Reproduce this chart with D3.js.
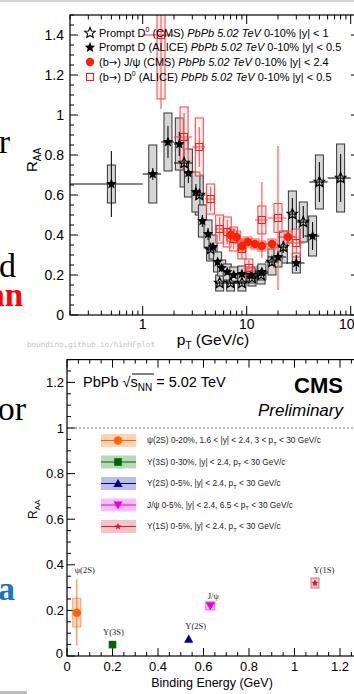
<!DOCTYPE html>
<html>
<head>
<meta charset="utf-8">
<script src="https://cdn.jsdelivr.net/npm/d3@7"></script>
<style>
  body { margin: 0; background: #fff; }
  svg { display: block; }
</style>
</head>
<body>
<svg id="chart" width="354" height="694"></svg>
<script>
// ---------------- Top panel: heavy-flavour RAA vs pT, PbPb 5.02 TeV ----------------
// Prompt D0 (CMS), 0-10%, |y| < 1
const dzCmsPt   = [2.5, 3.5, 4.5, 5.5, 7, 9, 11.25, 13.75, 17.5, 22.5, 27.5, 35, 50, 80];
const dzCmsLo   = [2, 3, 4, 5, 6, 8, 10, 12.5, 15, 20, 25, 30, 40, 60];
const dzCmsHi   = [3, 4, 5, 6, 8, 10, 12.5, 15, 20, 25, 30, 40, 60, 100];
const dzCmsRaa  = [0.76, 0.6, 0.33, 0.16, 0.16, 0.16, 0.185, 0.2, 0.265, 0.34, 0.505, 0.465, 0.665, 0.685];
const dzCmsStat = [0.02, 0.015, 0.01, 0.01, 0.01, 0.01, 0.012, 0.015, 0.02, 0.03, 0.08, 0.08, 0.1, 0.12];
const dzCmsSys  = [0.12, 0.1, 0.06, 0.04, 0.04, 0.04, 0.04, 0.045, 0.065, 0.08, 0.115, 0.1, 0.135, 0.17];

// Prompt D (ALICE), 0-10%, |y| < 0.5
const dAliPt   = [0.5, 1.25, 1.75, 2.25, 2.75, 3.25, 3.75, 4.25, 4.75, 5.25, 5.75, 6.5, 7.5, 9, 11, 14, 20, 30, 43];
const dAliLo   = [0, 1, 1.5, 2, 2.5, 3, 3.5, 4, 4.5, 5, 5.5, 6, 7, 8, 10, 12, 16, 24, 36];
const dAliHi   = [1, 1.5, 2, 2.5, 3, 3.5, 4, 4.5, 5, 5.5, 6, 7, 8, 10, 12, 16, 24, 36, 50];
const dAliRaa  = [0.655, 0.705, 0.865, 0.855, 0.71, 0.615, 0.47, 0.405, 0.34, 0.265, 0.235, 0.215, 0.2, 0.205, 0.2, 0.215, 0.29, 0.26, 0.395];
const dAliStat = [0.165, 0.03, 0.08, 0.06, 0.05, 0.04, 0.03, 0.03, 0.02, 0.02, 0.02, 0.015, 0.015, 0.015, 0.015, 0.02, 0.03, 0.04, 0.07];
const dAliSys  = [0.095, 0.145, 0.145, 0.13, 0.12, 0.1, 0.08, 0.07, 0.06, 0.05, 0.04, 0.04, 0.04, 0.04, 0.04, 0.04, 0.05, 0.05, 0.1];

// (b->) J/psi (CMS), 0-10%, |y| < 2.4
const bJpsiPt   = [7, 8, 9, 10.25, 12, 14, 17.5, 25];
const bJpsiLo   = [6.5, 7.5, 8.5, 9.5, 11, 13, 15, 20];
const bJpsiHi   = [7.5, 8.5, 9.5, 11, 13, 15, 20, 30];
const bJpsiRaa  = [0.40, 0.39, 0.345, 0.365, 0.355, 0.345, 0.355, 0.39];
const bJpsiStat = [0.03, 0.03, 0.02, 0.02, 0.02, 0.02, 0.02, 0.03];
const bJpsiSys  = [0.03, 0.03, 0.025, 0.025, 0.025, 0.025, 0.025, 0.03];

// (b->) D0 (ALICE), 0-10%, |y| < 0.5
const bDzPt   = [1.5, 2.5, 3.5, 4.5, 5.5, 6.5, 7.5, 9, 10.5, 14, 20, 30];
const bDzLo   = [1, 2, 3, 4, 5, 6, 7, 8, 10, 12, 16, 24];
const bDzHi   = [2, 3, 4, 5, 6, 7, 8, 10, 12, 16, 24, 36];
const bDzRaa  = [1.40, 0.89, 0.84, 0.58, 0.43, 0.415, 0.38, 0.33, 0.235, 0.475, 0.485, 0.36];
const bDzStat = [0.37, 0.12, 0.10, 0.06, 0.06, 0.06, 0.05, 0.05, 0.04, 0.19, 0.36, 0.05];
const bDzSys  = [0.32, 0.15, 0.145, 0.075, 0.07, 0.075, 0.06, 0.05, 0.045, 0.07, 0.072, 0.07];

const topYTicks = [0, 0.2, 0.4, 0.6, 0.8, 1, 1.2, 1.4];
const topXTickLabels = [1, 10, 100];

// ---------------- Bottom panel: quarkonium RAA vs binding energy ----------------
const qNames   = ["ψ(2S)", "Υ(3S)", "Υ(2S)", "J/ψ", "Υ(1S)"];
const qBinding = [0.043, 0.2, 0.535, 0.63, 1.09];
const qRaa     = [0.19, 0.05, 0.074, 0.22, 0.32];
const qStat    = [0.145, 0.012, 0.01, 0.012, 0.012];
const qSys     = [0.063, 0.012, 0.01, 0.012, 0.022];
const qColors  = ["#ff6600", "#006600", "#000099", "#e600e6", "#e0103c"];
const qFills   = ["#ffd2b4", "#b6d9b6", "#bdbdec", "#f9bdf9", "#f6c3c8"];
const qLegend  = [
  ["ψ(2S) 0-20%, 1.6 < |y| < 2.4, 3 < p", "T", " < 30 GeV/c"],
  ["Υ(3S) 0-30%, |y| < 2.4, p", "T", " < 30 GeV/c"],
  ["Υ(2S) 0-5%, |y| < 2.4, p", "T", " < 30 GeV/c"],
  ["J/ψ     0-5%, |y| < 2.4, 6.5 < p", "T", " < 30 GeV/c"],
  ["Υ(1S) 0-5%, |y| < 2.4, p", "T", " < 30 GeV/c"]
];
const botTicks = [0, 0.2, 0.4, 0.6, 0.8, 1, 1.2];

const SANS = "'Liberation Sans', Arial, Helvetica, sans-serif";
const SERIF = "'Liberation Serif', 'DejaVu Serif', serif";

const svg = d3.select("#chart");
svg.append("rect").attr("width", 354).attr("height", 694).attr("fill", "#fff");

// page edges of the slide
svg.append("rect").attr("x", 0).attr("y", 0).attr("width", 354).attr("height", 2).attr("fill", "#d4d4d4");
svg.append("rect").attr("x", 0).attr("y", 691).attr("width", 27).attr("height", 3).attr("fill", "#bdbdbd");

// fragments of the slide text sitting left of the plots
const frag = svg.append("g").attr("font-family", SERIF).attr("text-anchor", "end");
frag.append("text").attr("x", 10).attr("y", 153).attr("font-size", 34).attr("fill", "#000").text("r");
frag.append("text").attr("x", 16).attr("y", 277).attr("font-size", 34).attr("fill", "#000").text("d");
frag.append("text").attr("x", 23).attr("y", 306).attr("font-size", 33).attr("font-weight", "bold").attr("fill", "#ff0000").text("an");
frag.append("text").attr("x", 26).attr("y", 420).attr("font-size", 34).attr("fill", "#000").text("or");
frag.append("text").attr("x", 15).attr("y", 600).attr("font-size", 34).attr("font-weight", "bold").attr("fill", "#1a73c8").text("a");

// ---------- helpers ----------
function starPath(r) {
  const pts = [];
  for (let i = 0; i < 10; i++) {
    const a = -Math.PI / 2 + i * Math.PI / 5;
    const rr = i % 2 ? r * 0.45 : r;
    pts.push([rr * Math.cos(a), rr * Math.sin(a)]);
  }
  return "M" + pts.map(p => p[0].toFixed(2) + "," + p[1].toFixed(2)).join("L") + "Z";
}
function zipSeries(pt, lo, hi, raa, stat, sys) {
  return pt.map((p, i) => ({ pt: p, lo: lo[i], hi: hi[i], raa: raa[i], stat: stat[i], sys: sys[i] }));
}

// =============== TOP PANEL ===============
const tL = 70, tT = 15, tB = 315;
const xT = d3.scaleLog().domain([0.2, 120]).range([tL, tL + 104 * Math.log10(600)]);
const yT = d3.scaleLinear().domain([0, 1.5]).range([tB, tT]);
const tR = xT.range()[1];

const topG = svg.append("g");
svg.append("defs").append("clipPath").attr("id", "clipTop")
  .append("rect").attr("x", tL).attr("y", tT).attr("width", tR - tL).attr("height", tB - tT);

const plotT = topG.append("g").attr("clip-path", "url(#clipTop)");
const xc = v => xT(Math.max(v, 0.2));

const sDzCms = zipSeries(dzCmsPt, dzCmsLo, dzCmsHi, dzCmsRaa, dzCmsStat, dzCmsSys);
const sDAli  = zipSeries(dAliPt, dAliLo, dAliHi, dAliRaa, dAliStat, dAliSys);
const sBJpsi = zipSeries(bJpsiPt, bJpsiLo, bJpsiHi, bJpsiRaa, bJpsiStat, bJpsiSys);
const sBDz   = zipSeries(bDzPt, bDzLo, bDzHi, bDzRaa, bDzStat, bDzSys);

function boxes(data, fill, stroke, w, op) {
  plotT.append("g").selectAll("rect").data(data).join("rect")
    .attr("x", d => xT(d.pt) - w / 2).attr("width", w)
    .attr("y", d => yT(d.raa + d.sys)).attr("height", d => yT(d.raa - d.sys) - yT(d.raa + d.sys))
    .attr("fill", fill).attr("fill-opacity", op).attr("stroke", stroke).attr("stroke-width", 1);
}
function bars(data, color, width, withBins) {
  const g = plotT.append("g").attr("stroke", color).attr("stroke-width", width);
  g.selectAll("line.v").data(data).join("line").attr("class", "v")
    .attr("x1", d => xT(d.pt)).attr("x2", d => xT(d.pt))
    .attr("y1", d => yT(d.raa + d.stat)).attr("y2", d => yT(d.raa - d.stat));
  if (withBins) {
    g.selectAll("line.h").data(data).join("line").attr("class", "h")
      .attr("x1", d => xc(d.lo)).attr("x2", d => xc(d.hi))
      .attr("y1", d => yT(d.raa)).attr("y2", d => yT(d.raa));
  }
}

// systematic boxes
boxes(sDzCms, "#d6d6d6", "#333", 8, 1);
boxes(sDAli, "#d6d6d6", "#333", 8, 1);
boxes(sBDz, "#ffd8d8", "#ff3b3b", 8, 0.35);
boxes(sBJpsi, "#ff9c9c", "#ff5a5a", 8, 0.35);

// statistical bars and bin widths
bars(sDzCms, "#111", 1.1, true);
bars(sDAli, "#111", 1.1, true);
bars(sBDz, "#ff4d4d", 1.1, true);
bars(sBJpsi, "#ff3a3a", 1.1, true);

// markers
plotT.append("g").selectAll("path").data(sDzCms).join("path")
  .attr("d", starPath(5.5)).attr("transform", d => `translate(${xT(d.pt)},${yT(d.raa)})`)
  .attr("fill", "none").attr("stroke", "#000").attr("stroke-width", 1.2);
plotT.append("g").selectAll("path").data(sDAli).join("path")
  .attr("d", starPath(5.5)).attr("transform", d => `translate(${xT(d.pt)},${yT(d.raa)})`)
  .attr("fill", "#000");
plotT.append("g").selectAll("rect").data(sBDz).join("rect")
  .attr("x", d => xT(d.pt) - 3.5).attr("y", d => yT(d.raa) - 3.5).attr("width", 7).attr("height", 7)
  .attr("fill", "none").attr("stroke", "#ff1a1a").attr("stroke-width", 1.1);
plotT.append("g").selectAll("circle").data(sBJpsi).join("circle")
  .attr("cx", d => xT(d.pt)).attr("cy", d => yT(d.raa)).attr("r", 4.2)
  .attr("fill", "#ff2200");

// frame
topG.append("rect").attr("x", tL).attr("y", tT).attr("width", tR - tL).attr("height", tB - tT)
  .attr("fill", "none").attr("stroke", "#000").attr("stroke-width", 1.2);

// ticks
const topTicksG = topG.append("g").attr("stroke", "#000").attr("stroke-width", 1);
const xLogTicks = xT.ticks();
xLogTicks.forEach(v => {
  const major = Math.abs(Math.log10(v) - Math.round(Math.log10(v))) < 1e-9;
  const len = major ? 9 : 4.5;
  const x = xT(v);
  topTicksG.append("line").attr("x1", x).attr("x2", x).attr("y1", tB).attr("y2", tB - len);
  topTicksG.append("line").attr("x1", x).attr("x2", x).attr("y1", tT).attr("y2", tT + len);
});
d3.range(0, 1.5001, 0.05).forEach(v => {
  const major = Math.abs(v / 0.2 - Math.round(v / 0.2)) < 1e-6;
  const len = major ? 8 : 4;
  const y = yT(v);
  topTicksG.append("line").attr("x1", tL).attr("x2", tL + len).attr("y1", y).attr("y2", y);
  topTicksG.append("line").attr("x1", tR).attr("x2", tR - len).attr("y1", y).attr("y2", y);
});

// tick labels
topG.append("g").attr("font-family", SANS).attr("font-size", 14).attr("text-anchor", "end")
  .selectAll("text").data(topYTicks).join("text")
  .attr("x", 64).attr("y", d => yT(d)).attr("dy", "0.36em").text(d => d3.format("~g")(d));
topG.append("g").attr("font-family", SANS).attr("font-size", 14).attr("text-anchor", "middle")
  .selectAll("text").data(topXTickLabels).join("text")
  .attr("x", d => xT(d)).attr("y", 329).text(d => d);

// axis titles
const ptTitle = topG.append("text").attr("font-family", SANS).attr("font-size", 15.5)
  .attr("x", 213).attr("y", 345).attr("text-anchor", "middle");
ptTitle.append("tspan").text("p");
ptTitle.append("tspan").attr("font-size", 10).attr("dy", 4).text("T");
ptTitle.append("tspan").attr("dy", -4).text(" (GeV/c)");

const raaT = topG.append("text").attr("font-family", SANS).attr("font-size", 15)
  .attr("transform", "translate(37,172) rotate(-90)");
raaT.append("tspan").text("R");
raaT.append("tspan").attr("font-size", 10).attr("dy", 4).text("AA");

// legend
const legRows = [
  { pre: "Prompt D", sup: "0", post: " (CMS) ", tail: " 0-10% |y| < 1", mark: "ostar" },
  { pre: "Prompt D (ALICE) ", tail: " 0-10% |y| < 0.5", mark: "fstar" },
  { pre: "(b", arrow: true, post: ") J/ψ (CMS) ", tail: " 0-10% |y| < 2.4", mark: "circle" },
  { pre: "(b", arrow: true, post: ") D", sup: "0", post2: " (ALICE) ", tail: " 0-10% |y| < 0.5", mark: "square" }
];
const legY = [33, 47.5, 62, 77];
const leg = topG.append("g").attr("font-family", SANS).attr("font-size", 11);
legRows.forEach((r, i) => {
  const y = legY[i];
  if (r.mark === "ostar") leg.append("path").attr("d", starPath(5.5)).attr("transform", `translate(90,${y})`)
    .attr("fill", "#fff").attr("stroke", "#000").attr("stroke-width", 1.1);
  if (r.mark === "fstar") leg.append("path").attr("d", starPath(5.5)).attr("transform", `translate(90,${y})`).attr("fill", "#000");
  if (r.mark === "circle") leg.append("circle").attr("cx", 90).attr("cy", y).attr("r", 4.2).attr("fill", "#ff2200");
  if (r.mark === "square") leg.append("rect").attr("x", 86.5).attr("y", y - 3.5).attr("width", 7).attr("height", 7)
    .attr("fill", "#fff").attr("stroke", "#ff1a1a").attr("stroke-width", 1.1);
  const t = leg.append("text").attr("x", 99).attr("y", y).attr("dy", "0.36em");
  t.append("tspan").text(r.pre);
  if (r.arrow) t.append("tspan").attr("font-family", "'DejaVu Sans', sans-serif").attr("font-size", 10).text("\u2192");
  if (r.arrow) {
    if (r.sup) {
      t.append("tspan").text(r.post);
      t.append("tspan").attr("font-size", 7).attr("dy", -5).text(r.sup);
      t.append("tspan").attr("dy", 5).text(r.post2);
    } else {
      t.append("tspan").text(r.post);
    }
  } else if (r.sup) {
    t.append("tspan").attr("font-size", 7).attr("dy", -5).text(r.sup);
    t.append("tspan").attr("dy", 5).text(r.post);
  }
  t.append("tspan").attr("font-style", "italic").text("PbPb 5.02 TeV");
  t.append("tspan").text(r.tail);
});

// watermark
svg.append("text").attr("x", 27).attr("y", 347).attr("font-family", "'DejaVu Sans Mono', 'Liberation Mono', monospace")
  .attr("font-size", 7.6).attr("fill", "#c4c4c4").text("boundino.github.io/hinHFplot");

// =============== BOTTOM PANEL ===============
const bL = 67, bB = 656;
const xB = d3.scaleLinear().domain([0, 1.3]).range([bL, bL + 1.3 * 227.5]);
const yB = d3.scaleLinear().domain([0, 1.3]).range([bB, bB - 1.3 * 228]);
const bR = xB.range()[1], bT = yB.range()[1];
const botG = svg.append("g");

// dotted unity line
botG.append("line").attr("x1", bL).attr("x2", bR).attr("y1", yB(1)).attr("y2", yB(1))
  .attr("stroke", "#777").attr("stroke-width", 1).attr("stroke-dasharray", "2,2");

// frame
botG.append("rect").attr("x", bL).attr("y", bT).attr("width", bR - bL).attr("height", bB - bT)
  .attr("fill", "none").attr("stroke", "#000").attr("stroke-width", 1.2);

const botTicksG = botG.append("g").attr("stroke", "#000").attr("stroke-width", 1);
d3.range(0, 1.3001, 0.05).forEach(v => {
  const major = Math.abs(v / 0.2 - Math.round(v / 0.2)) < 1e-6;
  const len = major ? 8 : 4;
  const x = xB(v), y = yB(v);
  botTicksG.append("line").attr("x1", x).attr("x2", x).attr("y1", bB).attr("y2", bB - len);
  botTicksG.append("line").attr("x1", x).attr("x2", x).attr("y1", bT).attr("y2", bT + len);
  botTicksG.append("line").attr("x1", bL).attr("x2", bL + len).attr("y1", y).attr("y2", y);
  botTicksG.append("line").attr("x1", bR).attr("x2", bR - len).attr("y1", y).attr("y2", y);
});

botG.append("g").attr("font-family", SANS).attr("font-size", 13).attr("text-anchor", "end")
  .selectAll("text").data(botTicks).join("text")
  .attr("x", d => d === 0 ? 63 : 64).attr("y", d => yB(d) - (d === 0 ? 3 : 0)).attr("dy", "0.36em")
  .text(d => d3.format("~g")(d));
botG.append("g").attr("font-family", SANS).attr("font-size", 13).attr("text-anchor", "middle")
  .selectAll("text").data(botTicks).join("text")
  .attr("x", d => xB(d)).attr("y", 671).text(d => d3.format("~g")(d));

botG.append("text").attr("font-family", SANS).attr("font-size", 12.5).attr("x", 212).attr("y", 687)
  .attr("text-anchor", "middle").text("Binding Energy (GeV)");
const raaB = botG.append("text").attr("font-family", SANS).attr("font-size", 12)
  .attr("transform", "translate(37,519) rotate(-90)");
raaB.append("tspan").text("R");
raaB.append("tspan").attr("font-size", 8).attr("dy", 3).text("AA");

// headers
const hdr = botG.append("text").attr("font-family", SANS).attr("font-size", 14.5).attr("x", 83).attr("y", 387);
hdr.append("tspan").text("PbPb ");
hdr.append("tspan").text("\u221A");
hdr.append("tspan").text("s");
hdr.append("tspan").attr("font-size", 10).attr("dy", 4).text("NN");
hdr.append("tspan").attr("dy", -4).text(" = 5.02 TeV");
botG.append("line").attr("x1", 132).attr("x2", 154).attr("y1", 374).attr("y2", 374).attr("stroke", "#000").attr("stroke-width", 1);
botG.append("text").attr("font-family", SANS).attr("font-size", 22).attr("font-weight", "bold")
  .attr("x", 343).attr("y", 393).attr("text-anchor", "end").text("CMS");
botG.append("text").attr("font-family", SANS).attr("font-size", 17).attr("font-style", "italic")
  .attr("x", 343).attr("y", 416).attr("text-anchor", "end").text("Preliminary");

// marker shapes per state
function qMarker(g, i, x, y, s) {
  const c = qColors[i];
  if (i === 0) g.append("circle").attr("cx", x).attr("cy", y).attr("r", 4.3 * s).attr("fill", c);
  if (i === 1) g.append("rect").attr("x", x - 3.8 * s).attr("y", y - 3.8 * s).attr("width", 7.6 * s).attr("height", 7.6 * s).attr("fill", c);
  if (i === 2) g.append("path").attr("d", `M${x},${y - 4.6 * s}L${x + 4.6 * s},${y + 3.6 * s}L${x - 4.6 * s},${y + 3.6 * s}Z`).attr("fill", c);
  if (i === 3) g.append("path").attr("d", `M${x},${y + 4.6 * s}L${x + 4.6 * s},${y - 3.6 * s}L${x - 4.6 * s},${y - 3.6 * s}Z`).attr("fill", c);
  if (i === 4) g.append("path").attr("d", starPath(3.6 * s)).attr("transform", `translate(${x},${y})`).attr("fill", c);
}

// legend
const legB = botG.append("g");
const legBY = [440.5, 462, 483.5, 505, 526.5];
qNames.forEach((n, i) => {
  const y = legBY[i];
  legB.append("rect").attr("x", 101).attr("y", y - 6.5).attr("width", 35).attr("height", 13).attr("fill", qFills[i]);
  legB.append("line").attr("x1", 101).attr("x2", 136).attr("y1", y).attr("y2", y).attr("stroke", qColors[i]).attr("stroke-width", 1);
  qMarker(legB, i, 118, y, 1);
  const t = legB.append("text").attr("font-family", SANS).attr("font-size", 8.3).attr("fill", "#222")
    .attr("x", 147).attr("y", y).attr("dy", "0.36em");
  t.append("tspan").text(qLegend[i][0]);
  t.append("tspan").attr("font-size", 5.8).attr("dy", 2.2).text(qLegend[i][1]);
  t.append("tspan").attr("dy", -2.2).text(qLegend[i][2]);
});

// data points
const ptsG = botG.append("g");
qNames.forEach((n, i) => {
  const x = xB(qBinding[i]), y = yB(qRaa[i]);
  if (i === 0 || i === 4 || i === 3) {
    const w = i === 0 ? 8 : (i === 4 ? 8 : 9);
    const hs = yB(qRaa[i] - qSys[i]) - yB(qRaa[i] + qSys[i]);
    const hMin = i === 0 ? hs : Math.max(hs, i === 4 ? 10 : 8);
    ptsG.append("rect").attr("x", x - w / 2).attr("y", y - hMin / 2).attr("width", w).attr("height", hMin)
      .attr("fill", qFills[i]).attr("fill-opacity", 0.8).attr("stroke", qColors[i]).attr("stroke-opacity", 0.6).attr("stroke-width", 1);
  }
  ptsG.append("line").attr("x1", x).attr("x2", x).attr("y1", yB(qRaa[i] + qStat[i])).attr("y2", yB(qRaa[i] - qStat[i]))
    .attr("stroke", qColors[i]).attr("stroke-opacity", 0.8).attr("stroke-width", 1.1);
  if (i === 0) {
    ptsG.append("line").attr("x1", x - 4).attr("x2", x + 4).attr("y1", y).attr("y2", y).attr("stroke", qColors[i]).attr("stroke-width", 1);
  }
  qMarker(ptsG, i, x, y, 1);
});

// state labels
const labOff = [[8, -43], [1, -13], [7, -13], [3, -10], [9, -13]];
botG.append("g").attr("font-family", SERIF).attr("font-size", 8.5).attr("text-anchor", "middle").attr("fill", "#222")
  .selectAll("text").data(qNames).join("text")
  .attr("x", (d, i) => xB(qBinding[i]) + labOff[i][0])
  .attr("y", (d, i) => yB(qRaa[i]) + labOff[i][1])
  .attr("dy", "0.36em").text(d => d);
</script>
</body>
</html>
